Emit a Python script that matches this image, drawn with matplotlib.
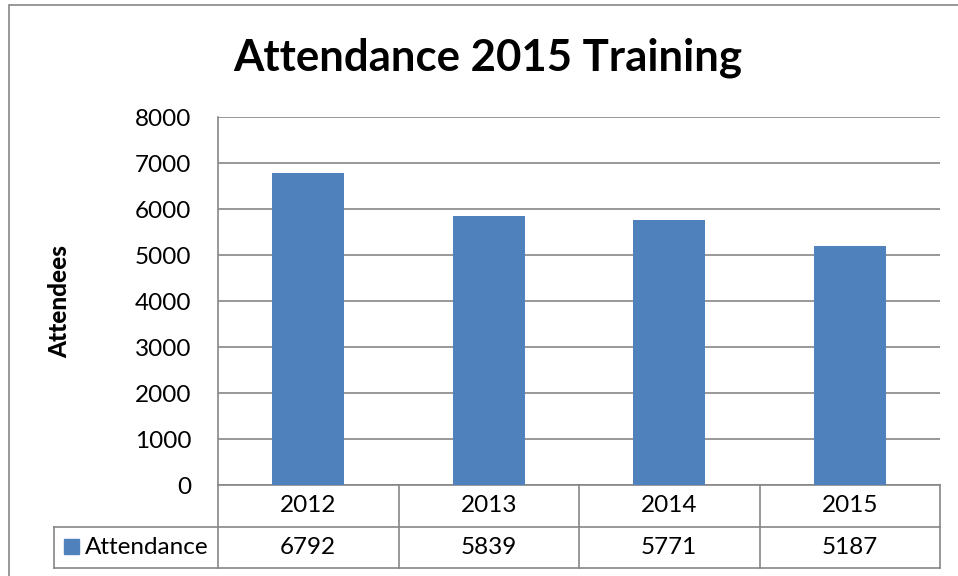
import numpy as np
import matplotlib.pyplot as plt
from matplotlib.patches import Rectangle
from matplotlib.lines import Line2D

plt.rcParams['font.family'] = ['Lato', 'DejaVu Sans']

years = ['2012', '2013', '2014', '2015']
attendance = [6792, 5839, 5771, 5187]
series_name = 'Attendance'

W, H = 958, 576
bar_color = '#4F81BD'
line_grey = '#868686'
fs = 17.5

fig = plt.figure(figsize=(W / 100, H / 100), dpi=100)

# outer chart border
fig.add_artist(Rectangle((9 / W, 0 - 0.01), 1.02, 1 - 5 / H + 0.01,
                         transform=fig.transFigure, fill=False,
                         edgecolor=line_grey, lw=1.2))

ax_l, ax_r, ax_t, ax_b = 218, 940, 117, 485
ax = fig.add_axes([ax_l / W, 1 - ax_b / H, (ax_r - ax_l) / W, (ax_b - ax_t) / H])

x = np.arange(len(years))
ax.bar(x, attendance, width=0.4, color=bar_color, zorder=3)
ax.set_xlim(-0.5, len(years) - 0.5)
ax.set_ylim(0, 8000)
ax.set_yticks(np.arange(0, 8001, 1000))
ax.set_xticks([])
ax.grid(axis='y', color=line_grey, lw=1.2, zorder=0)
for s in ['top', 'right', 'bottom']:
    ax.spines[s].set_visible(False)
ax.spines['left'].set_color(line_grey)
ax.spines['left'].set_linewidth(1.2)
ax.tick_params(axis='y', length=0, pad=19, labelsize=fs)
ax.set_ylabel('Attendees', fontsize=17.5, fontweight='black')
ax.yaxis.set_label_coords((60 - ax_l) / (ax_r - ax_l), 0.5)
ax.yaxis.label.set_va('center')

fig.text(488 / W, 1 - 58 / H, 'Attendance 2015 Training', ha='center', va='center',
         fontsize=31.5, fontweight='bold')

# data table under the axis
axh = ax_b - ax_t
axw = ax_r - ax_l
row1 = -(527 - ax_b) / axh
row2 = -(568 - ax_b) / axh
leg_x = -(ax_l - 54) / axw
trans = ax.get_xaxis_transform()
kw = dict(color=line_grey, lw=1.2, clip_on=False)

ax.add_line(Line2D([-0.5, len(years) - 0.5], [0, 0], transform=trans, **kw))
for b in np.arange(len(years) + 1) - 0.5:
    ax.add_line(Line2D([b, b], [0, row2], transform=trans, **kw))
ax.add_line(Line2D([leg_x, 1], [row1, row1], transform=ax.transAxes, **kw))
ax.add_line(Line2D([leg_x, 1], [row2, row2], transform=ax.transAxes, **kw))
ax.add_line(Line2D([leg_x, leg_x], [row1, row2], transform=ax.transAxes, **kw))

for i, (yr, v) in enumerate(zip(years, attendance)):
    ax.text(i, row1 / 2, yr, transform=trans, ha='center', va='center', fontsize=fs)
    ax.text(i, (row1 + row2) / 2, str(v), transform=trans, ha='center', va='center', fontsize=fs)

ax.add_patch(Rectangle(((64 - ax_l) / axw, -(554 - ax_b) / axh), 15 / axw, 15 / axh,
                       transform=ax.transAxes, color=bar_color, clip_on=False))
ax.text((85 - ax_l) / axw, (row1 + row2) / 2, series_name, transform=ax.transAxes,
        ha='left', va='center', fontsize=fs)

fig.savefig('out.png', dpi=100)
